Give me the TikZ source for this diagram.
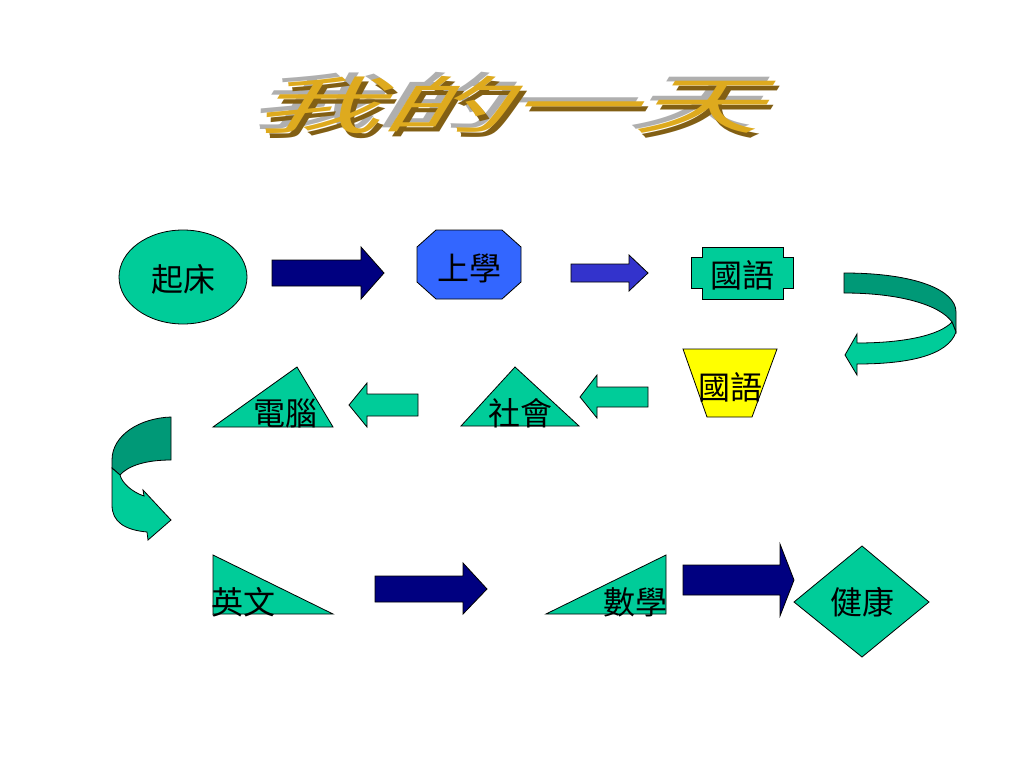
\documentclass[tikz,border=0pt]{standalone}
\usepackage{fontspec}
\newfontfamily\cjk{Noto Sans CJK TC}
\definecolor{teal1}{RGB}{0,204,153}
\definecolor{teal2}{RGB}{0,153,119}
\definecolor{navy1}{RGB}{0,0,128}
\definecolor{blue2}{RGB}{51,51,204}
\definecolor{octblue}{RGB}{51,102,255}
\definecolor{yel}{RGB}{255,255,0}
\definecolor{gold1}{RGB}{222,170,30}
\definecolor{brown1}{RGB}{130,95,20}
\definecolor{silver1}{RGB}{175,175,175}
\tikzset{
  shp/.style={draw=black, line width=0.8pt, line join=miter},
  lbl/.style={inner sep=0pt, font=\cjk\fontsize{32}{32}\selectfont},
  ttl/.style={inner sep=0pt, font=\cjk\fontsize{62}{62}\selectfont, transform shape, xscale=2.05, xslant=0.3}
}
\begin{document}
\begin{tikzpicture}[x=1pt,y=-1pt]
\fill[white] (0,0) rectangle (1024,768);
\useasboundingbox (0,0) rectangle (1024,768);

% title
\begin{scope}
\node[ttl, text=silver1] (ts) at (515,101) {我的一天};
\node[ttl, text=brown1] (tb) at (525,110) {我的一天};
\node[ttl, text=gold1] (tt) at (521,105) {我的一天};
\end{scope}

% row 1
\filldraw[shp, fill=teal1] (183,277) ellipse [x radius=64, y radius=47];
\node[lbl] (qc) at (183,279) {起床};
\filldraw[shp, fill=navy1] (272,260) -- (361,260) -- (361,247) -- (384,273) -- (361,299) -- (361,286) -- (272,286) -- cycle;
\filldraw[shp, fill=octblue] (436,230) -- (502,230) -- (521,247) -- (521,282) -- (502,299) -- (436,299) -- (417,282) -- (417,247) -- cycle;
\node[lbl] (sx) at (469,268) {上學};
\filldraw[shp, fill=blue2] (571,264) -- (629,264) -- (629,255) -- (648,273) -- (629,291) -- (629,282) -- (571,282) -- cycle;
\filldraw[shp, fill=teal1] (702,247) -- (783,247) -- (783,257) -- (793,257) -- (793,288) -- (783,288) -- (783,299) -- (702,299) -- (702,288) -- (691,288) -- (691,257) -- (702,257) -- cycle;
\node[lbl] (gy1) at (742,275) {國語};

% right curved arrow
\filldraw[shp, fill=teal2] (844,273) .. controls (915,273) and (956,290) .. (956,312) -- (956,332) -- (952,322) .. controls (940,305) and (900,293) .. (844,293) -- cycle;
\filldraw[shp, fill=teal1] (956,332) .. controls (948,355) and (910,364) .. (857,364) -- (857,375) -- (845,355) -- (857,334) -- (857,343) .. controls (905,343) and (940,335) .. (952,322) -- cycle;

% row 2
\filldraw[shp, fill=yel] (683,349) -- (777,349) -- (752,417) -- (707,417) -- cycle;
\node[lbl] (gy2) at (730,387) {國語};
\filldraw[shp, fill=teal1] (648,387) -- (597,387) -- (597,375) -- (580,397) -- (597,418) -- (597,407) -- (648,407) -- cycle;
\filldraw[shp, fill=teal1] (515,367) -- (579,426) -- (461,426) -- cycle;
\node[lbl] (sh) at (520,413) {社會};
\filldraw[shp, fill=teal1] (418,394) -- (367,394) -- (367,383) -- (349,405) -- (367,427) -- (367,416) -- (418,416) -- cycle;
\filldraw[shp, fill=teal1] (297,367) -- (333,427) -- (213,427) -- cycle;
\node[lbl] (dn) at (285,413) {電腦};

% left curved arrow
\filldraw[shp, fill=teal2] (171,417) .. controls (140,418) and (112,435) .. (112,460) -- (112,468) -- (120,475) .. controls (128,466) and (145,460) .. (171,460) -- cycle;
\filldraw[shp, fill=teal1] (112,468) -- (112,505) .. controls (112,522) and (125,530) .. (147,532) -- (148,540) -- (171,520) -- (143,490) -- (144,496) .. controls (132,492) and (122,483) .. (120,475) -- cycle;

% row 3
\filldraw[shp, fill=teal1] (213,555) -- (333,614) -- (213,614) -- cycle;
\node[lbl] (yw) at (243,602) {英文};
\filldraw[shp, fill=navy1] (375,576) -- (463,576) -- (463,563) -- (487,589) -- (463,614) -- (463,602) -- (375,602) -- cycle;
\filldraw[shp, fill=teal1] (546,614) -- (666,555) -- (666,614) -- cycle;
\node[lbl] (sxm) at (635,602) {數學};
\filldraw[shp, fill=navy1] (683,565) -- (780,565) -- (780,544) -- (794,580) -- (780,616) -- (780,595) -- (683,595) -- cycle;
\filldraw[shp, fill=teal1] (794,602) -- (862,546) -- (929,602) -- (862,657) -- cycle;
\node[lbl] (jk) at (862,602) {健康};
\end{tikzpicture}
\end{document}
